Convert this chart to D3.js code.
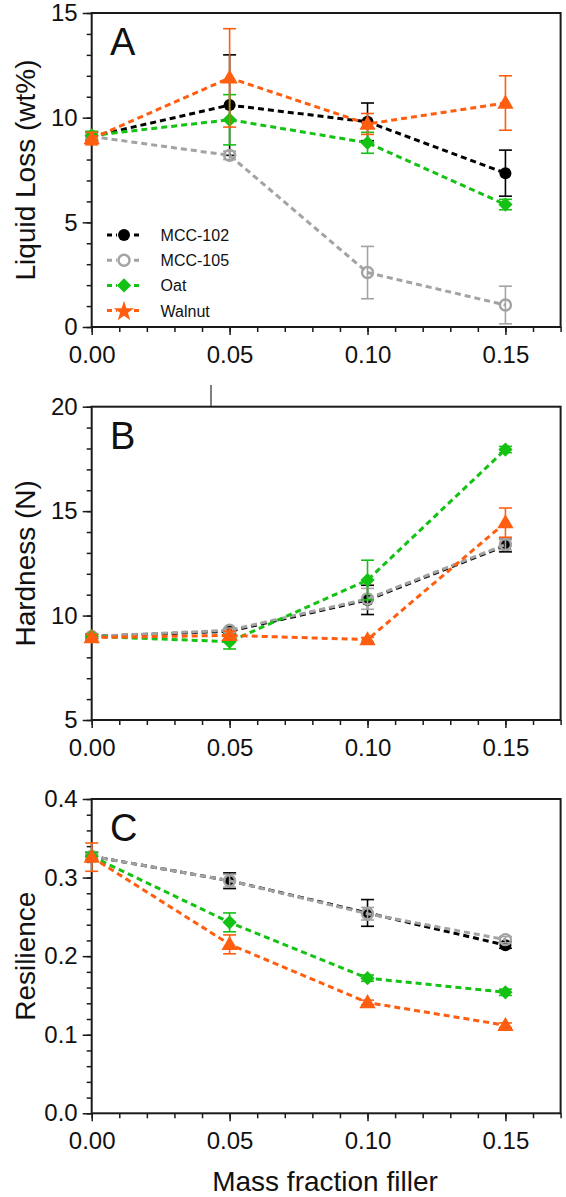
<!DOCTYPE html>
<html><head><meta charset="utf-8">
<script src="https://cdn.jsdelivr.net/npm/d3@7"></script>
<style>body{margin:0;background:#fff}svg{display:block}text{font-family:"Liberation Sans",Arial,sans-serif}</style>
</head><body>
<script>
// ---------- data ----------
const fractions = [0.00, 0.05, 0.10, 0.15];
const seriesNames = ["MCC-102", "MCC-105", "Oat", "Walnut"];
const xTickLabels = ["0.00", "0.05", "0.10", "0.15"];

// Panel A: Liquid loss (wt%)
const lossMCC102 = [9.1, 10.6, 9.8, 7.35];
const lossMCC102Err = [0.2, 2.4, 0.9, 1.1];
const lossMCC105 = [9.1, 8.2, 2.6, 1.05];
const lossMCC105Err = [0.2, 0.2, 1.25, 0.9];
const lossOat = [9.15, 9.9, 8.8, 5.85];
const lossOatErr = [0.2, 1.2, 0.5, 0.25];
const lossWalnut = [9.0, 11.9, 9.7, 10.7];
const lossWalnutErr = [0.3, 2.35, 0.5, 1.3];
const lossTicks = [0, 5, 10, 15];

// Panel B: Hardness (N)
const hardMCC102 = [9.0, 9.25, 10.75, 13.35];
const hardMCC102Err = [0.1, 0.1, 0.7, 0.3];
const hardMCC105 = [9.0, 9.3, 10.8, 13.4];
const hardMCC105Err = [0.1, 0.1, 0.5, 0.25];
const hardOat = [9.0, 8.75, 11.7, 17.95];
const hardOatErr = [0.1, 0.35, 0.95, 0.15];
const hardWalnut = [8.95, 9.05, 8.85, 14.45];
const hardWalnutErr = [0.15, 0.2, 0.1, 0.7];
const hardTicks = [5, 10, 15, 20];

// Panel C: Resilience
const resMCC102 = [0.327, 0.296, 0.255, 0.214];
const resMCC102Err = [0.005, 0.010, 0.017, 0.004];
const resMCC105 = [0.327, 0.296, 0.254, 0.221];
const resMCC105Err = [0.005, 0.008, 0.008, 0.004];
const resOat = [0.327, 0.243, 0.172, 0.154];
const resOatErr = [0.005, 0.012, 0.004, 0.004];
const resWalnut = [0.326, 0.215, 0.141, 0.112];
const resWalnutErr = [0.018, 0.012, 0.003, 0.003];
const resTicks = [0.0, 0.1, 0.2, 0.3, 0.4];

// ---------- styles ----------
const colors = {"MCC-102": "#000000", "MCC-105": "#a3a3a3", "Oat": "#14c214", "Walnut": "#ff5e10"};
const W = 566, H = 1197;
const svg = d3.select("body").append("svg").attr("width", W).attr("height", H);

const x = d3.scaleLinear().domain([0, 0.17]).range([91.7, 560.6]);

const panels = [
  {letter: "A", title: "Liquid Loss (wt%)", domain: [0, 15], range: [327, 13], ticks: lossTicks, minorStep: 1, fmt: d3.format("d"),
   series: [[lossMCC102, lossMCC102Err], [lossMCC105, lossMCC105Err], [lossOat, lossOatErr], [lossWalnut, lossWalnutErr]], legend: true},
  {letter: "B", title: "Hardness (N)", domain: [5, 20], range: [720, 406.7], ticks: hardTicks, minorStep: 1, fmt: d3.format("d"),
   series: [[hardMCC102, hardMCC102Err], [hardMCC105, hardMCC105Err], [hardOat, hardOatErr], [hardWalnut, hardWalnutErr]]},
  {letter: "C", title: "Resilience", domain: [0, 0.4], range: [1113.3, 799], ticks: resTicks, minorStep: 0.02, fmt: d3.format(".1f"),
   series: [[resMCC102, resMCC102Err], [resMCC105, resMCC105Err], [resOat, resOatErr], [resWalnut, resWalnutErr]], xTitle: "Mass fraction filler"}
];

function marker(g, name, cx, cy, legendStar) {
  const c = colors[name];
  if (name === "MCC-102") {
    g.append("circle").attr("cx", cx).attr("cy", cy).attr("r", 6).attr("fill", c);
  } else if (name === "MCC-105") {
    g.append("circle").attr("cx", cx).attr("cy", cy).attr("r", 5.5).attr("fill", "none").attr("stroke", c).attr("stroke-width", 2.4);
  } else if (name === "Oat") {
    g.append("path").attr("d", d3.symbol(d3.symbolDiamond2, 130)()).attr("transform", `translate(${cx},${cy})`).attr("fill", c);
  } else {
    const sym = legendStar ? d3.symbolStar : d3.symbolTriangle;
    g.append("path").attr("d", d3.symbol(sym, legendStar ? 130 : 115)()).attr("transform", `translate(${cx},${cy + 1})`).attr("fill", c);
  }
}

panels.forEach(p => {
  const y = d3.scaleLinear().domain(p.domain).range(p.range);
  const g = svg.append("g");
  const [yb, yt] = p.range;
  // frame
  g.append("rect").attr("x", x(0)).attr("y", yt).attr("width", x(0.17) - x(0)).attr("height", yb - yt)
    .attr("fill", "none").attr("stroke", "#1a1a1a").attr("stroke-width", 2);
  // x axis
  const xMinor = d3.range(0, 0.1701, 0.01);
  g.append("g").attr("transform", `translate(0,${yb})`)
    .call(d3.axisBottom(x).tickValues(xMinor).tickSize(5).tickFormat(""))
    .call(a => { a.select(".domain").remove(); a.selectAll("line").attr("stroke", "#1a1a1a").attr("stroke-width", 1.5); });
  g.append("g").attr("transform", `translate(0,${yb})`)
    .call(d3.axisBottom(x).tickValues(fractions).tickSize(8).tickPadding(11).tickFormat((d, i) => xTickLabels[i]))
    .call(a => { a.select(".domain").remove(); a.selectAll("line").attr("stroke", "#1a1a1a").attr("stroke-width", 1.5);
      a.selectAll("text").attr("font-size", 24).attr("fill", "#111").attr("font-family", "Liberation Sans, Arial, sans-serif"); });
  // y axis
  const yMinor = d3.range(p.domain[0], p.domain[1] + p.minorStep / 2, p.minorStep);
  g.append("g").attr("transform", `translate(${x(0)},0)`)
    .call(d3.axisLeft(y).tickValues(yMinor).tickSize(5).tickFormat(""))
    .call(a => { a.select(".domain").remove(); a.selectAll("line").attr("stroke", "#1a1a1a").attr("stroke-width", 1.5); });
  g.append("g").attr("transform", `translate(${x(0)},0)`)
    .call(d3.axisLeft(y).tickValues(p.ticks).tickSize(9).tickPadding(5).tickFormat(p.fmt))
    .call(a => { a.select(".domain").remove(); a.selectAll("line").attr("stroke", "#1a1a1a").attr("stroke-width", 1.5);
      a.selectAll("text").attr("font-size", 24).attr("fill", "#111").attr("font-family", "Liberation Sans, Arial, sans-serif"); });
  // y title
  g.append("text").attr("transform", `translate(35,${(yb + yt) / 2}) rotate(-90)`).attr("text-anchor", "middle")
    .attr("font-size", 28).attr("fill", "#111").text(p.title);
  // panel letter
  g.append("text").attr("x", 110).attr("y", yt + 42).attr("font-size", 38).attr("fill", "#111").text(p.letter);

  // lines, error bars, markers
  p.series.forEach(([vals, errs], si) => {
    const name = seriesNames[si], c = colors[name];
    const pts = fractions.map((f, i) => [f, vals[i], errs[i]]);
    const sg = g.append("g");
    sg.append("path").datum(pts).attr("fill", "none").attr("stroke", c).attr("stroke-width", 3)
      .attr("stroke-dasharray", "6,4").attr("d", d3.line().x(d => x(d[0])).y(d => y(d[1])));
    pts.forEach(d => {
      const px = x(d[0]), y1 = y(d[1] + d[2]), y2 = y(d[1] - d[2]);
      sg.append("line").attr("x1", px).attr("x2", px).attr("y1", y1).attr("y2", y2).attr("stroke", c).attr("stroke-width", 1.6);
      [y1, y2].forEach(yy => sg.append("line").attr("x1", px - 6.5).attr("x2", px + 6.5).attr("y1", yy).attr("y2", yy).attr("stroke", c).attr("stroke-width", 1.6));
      marker(sg, name, px, y(d[1]), false);
    });
  });

  if (p.legend) {
    const lg = g.append("g");
    seriesNames.forEach((name, i) => {
      const ly = 235 + i * 25.2;
      lg.append("line").attr("x1", 107).attr("x2", 141).attr("y1", ly).attr("y2", ly)
        .attr("stroke", colors[name]).attr("stroke-width", 3).attr("stroke-dasharray", "5,4");
      lg.append("rect").attr("x", 117).attr("y", ly - 7).attr("width", 14).attr("height", 14).attr("fill", "#fff");
      marker(lg, name, 124, ly, true);
      lg.append("text").attr("x", 160.6).attr("y", ly + 6).attr("font-size", 16).attr("fill", "#111").text(name);
    });
  }
  if (p.xTitle) {
    g.append("text").attr("x", 325).attr("y", 1191).attr("text-anchor", "middle").attr("font-size", 28).attr("fill", "#111").text(p.xTitle);
  }
});

// small stray tick mark above panel B (present in the original figure)
svg.append("line").attr("x1", 211).attr("x2", 211).attr("y1", 385).attr("y2", 406)
  .attr("stroke", "#555").attr("stroke-width", 1.5);
</script>
</body></html>
